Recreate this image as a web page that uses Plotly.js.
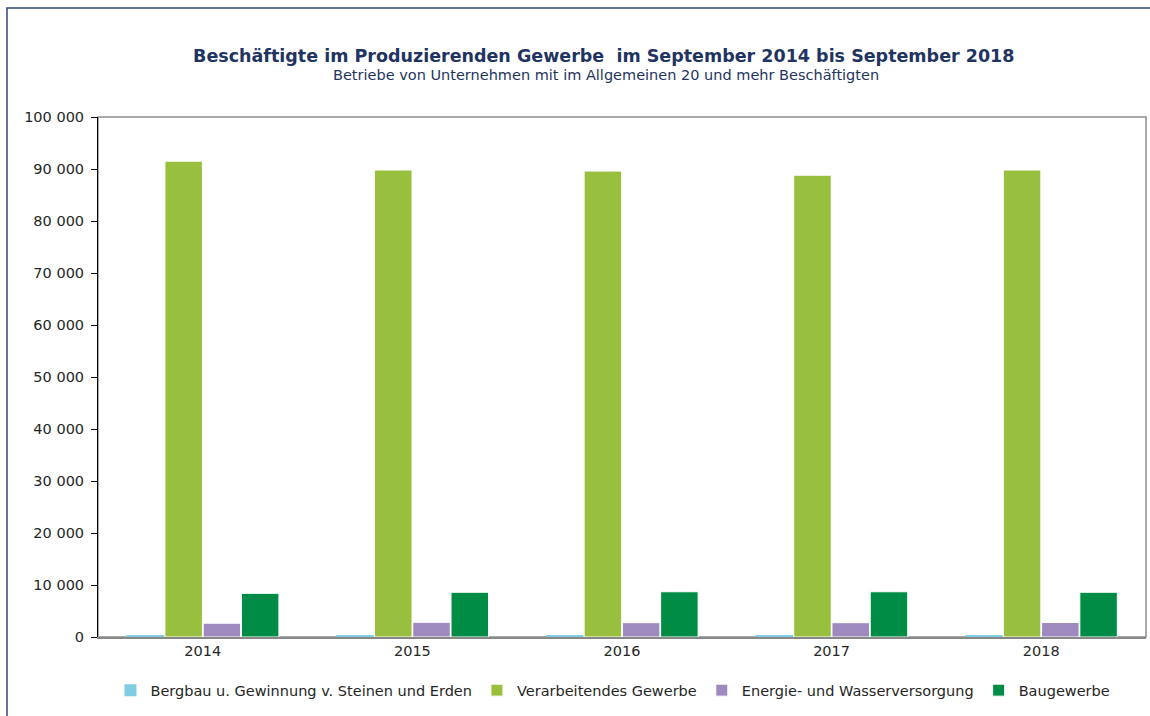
<!DOCTYPE html>
<html>
<head>
<meta charset="utf-8">
<script src="https://cdn.plot.ly/plotly-3.0.1.min.js"></script>
<style>
html,body{margin:0;padding:0;background:#fff;}
#chart{width:1150px;height:716px;}
</style>
</head>
<body>
<div id="chart"></div>
<script>
const years = ["2014", "2015", "2016", "2017", "2018"];
const seriesNames = ["Bergbau u. Gewinnung v. Steinen und Erden", "Verarbeitendes Gewerbe", "Energie- und Wasserversorgung", "Baugewerbe"];
const bergbau = [400, 400, 400, 400, 400];
const verarbeitendes = [91500, 89800, 89600, 88800, 89800];
const energie = [2650, 2820, 2750, 2750, 2800];
const baugewerbe = [8400, 8600, 8700, 8700, 8600];
const colors = ["#1AB4E0", "#99BF3E", "#9E8ABE", "#008C44"];
const yTickVals = [0, 10000, 20000, 30000, 40000, 50000, 60000, 70000, 80000, 90000, 100000];
const yTickText = ["0", "10 000", "20 000", "30 000", "40 000", "50 000", "60 000", "70 000", "80 000", "90 000", "100 000"];

const values = [bergbau, verarbeitendes, energie, baugewerbe];
const traces = values.map((v, i) => ({
  type: "bar",
  name: seriesNames[i],
  x: years,
  y: v,
  marker: {color: i === 0 ? "#7FCCE3" : colors[i],
           line: {color: i === 0 ? "#7FCCE3" : "#ffffff", width: i === 0 ? 0 : 1}},
  hoverinfo: "x+y+name"
}));

const font = "Verdana, 'DejaVu Sans', sans-serif";
const layout = {
  width: 1150, height: 716,
  margin: {l: 98, r: 4, t: 117, b: 79},
  paper_bgcolor: "#ffffff",
  plot_bgcolor: "#ffffff",
  font: {family: font, size: 14.5, color: "#262626"},
  barmode: "group",
  bargap: 0.27,
  bargroupgap: 0.02,
  showlegend: true,
  legend: {orientation: "h", x: 0.533, xanchor: "center", xref: "container", y: 0.036, yanchor: "middle", yref: "container",
           font: {family: font, size: 14.5, color: "#262626"}, itemwidth: 30, traceorder: "normal"},
  title: {
    text: "<b>Beschäftigte im Produzierenden Gewerbe  im September 2014 bis September 2018</b>",
    font: {family: font, size: 17.5, color: "#1F3461"},
    x: 0.525, xref: "container", xanchor: "center",
    y: 1 - 56/716, yref: "container", yanchor: "middle"
  },
  annotations: [{
    text: "Betriebe von Unternehmen mit im Allgemeinen 20 und mehr Beschäftigten",
    xref: "paper", yref: "paper",
    x: (606 - 98) / 1048, y: (637 - 75) / 520, xanchor: "center", yanchor: "middle",
    showarrow: false, font: {family: font, size: 14.5, color: "#1F3461"}
  }],
  xaxis: {
    type: "category",
    showline: true, linecolor: "#888888", linewidth: 1.5,
    ticks: "", showgrid: false, zeroline: false,
    tickfont: {family: font, size: 14.5, color: "#262626"}
  },
  yaxis: {
    range: [0, 100000],
    tickvals: yTickVals, ticktext: yTickText,
    showline: true, linecolor: "#000000", linewidth: 1,
    ticks: "outside", ticklen: 6, tickcolor: "#000000",
    ticklabelstandoff: 4,
    showgrid: false, zeroline: false,
    tickfont: {family: font, size: 14.5, color: "#262626"}
  },
  shapes: [
    {type: "rect", xref: "paper", yref: "paper", x0: 0, x1: 1, y0: 0, y1: 1,
     line: {color: "#8C8C8C", width: 1.5}, layer: "below"},
    {type: "rect", xref: "paper", yref: "paper",
     x0: (7 - 98) / 1048, x1: 1.2, y0: -0.5, y1: (637 - 8) / 520,
     line: {color: "#2F4777", width: 1.5}, layer: "below"}
  ]
};

Plotly.newPlot("chart", traces, layout, {displayModeBar: false, staticPlot: true});
</script>
</body>
</html>
